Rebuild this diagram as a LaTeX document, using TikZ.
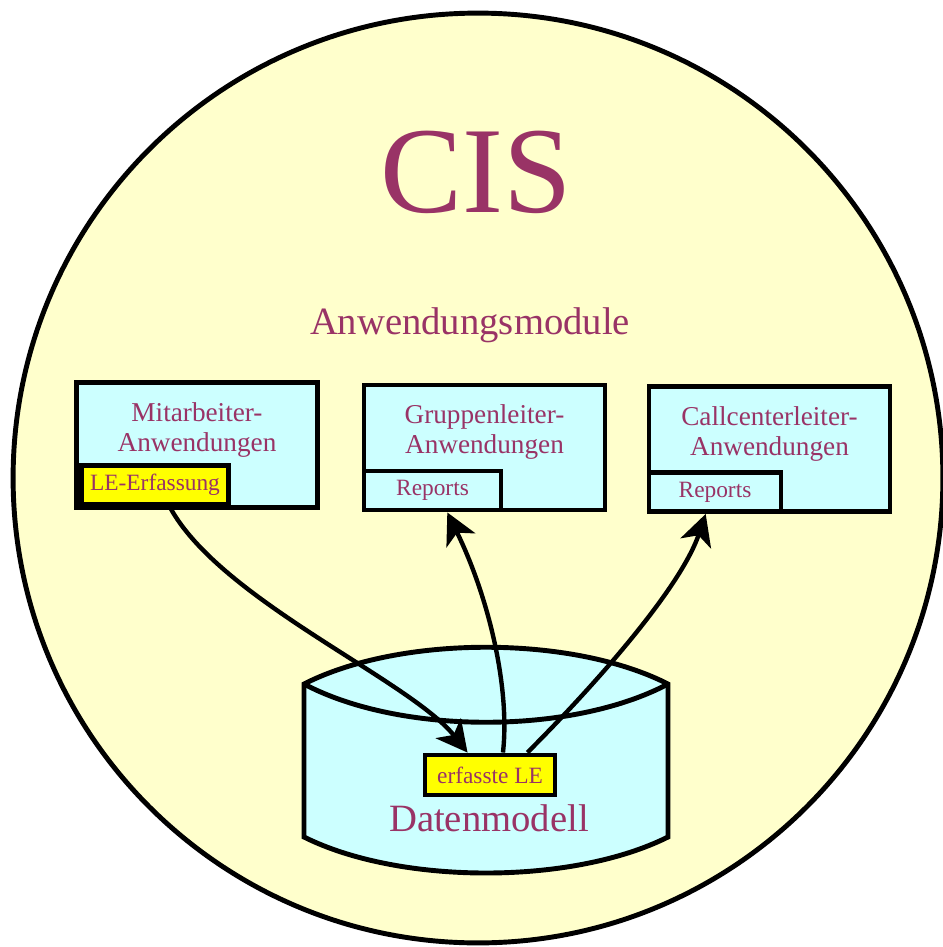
\documentclass[tikz,border=0pt]{standalone}
\usepackage{fontspec}
\setmainfont{Liberation Serif}
\usepackage{tikz}
\usetikzlibrary{arrows.meta,positioning}
\usepackage{xcolor}
\definecolor{cisyellow}{RGB}{255,255,204}
\definecolor{ciscyan}{RGB}{204,255,255}
\definecolor{cispurple}{RGB}{153,51,102}
\definecolor{lefill}{RGB}{255,255,0}
\tikzstyle{flow} = [line width=2.5pt, -{Stealth[length=0.62cm,width=0.64cm,inset=0.17cm]}]
\tikzstyle{modbox} = [rectangle, draw, fill=ciscyan, line width=2.8pt, minimum width=4.82cm, minimum height=2.5cm]
\tikzstyle{subbox} = [rectangle, draw, fill=ciscyan, line width=2.8pt, minimum height=0.78cm, inner sep=0pt, text=cispurple, font=\fontsize{13.3}{15}\selectfont]
\tikzstyle{modtitle} = [align=center, inner sep=0pt, text=cispurple, font=\fontsize{15.5}{17}\selectfont]

\begin{document}
\begin{tikzpicture}[x=0.02cm, y=-0.02cm]
\useasboundingbox (0,0) rectangle (943,947);
% CIS
\draw[line width=2.8pt, fill=cisyellow] (478,478) circle (9.3cm);
\node[text=cispurple, font=\fontsize{70}{70}\selectfont] (cis) at (476,172) {CIS};
\node[text=cispurple, font=\fontsize{22}{24}\selectfont, anchor=base] (modules) at (470,334) {Anwendungsmodule};

% Module
\node[modbox] (ma) at (197,445) {};
\node[modbox] (gl) at (484.5,447.5) {};
\node[modbox] (cl) at (769.5,449) {};
\node[modtitle, below=0.44cm of ma.north] (mat) {Mitarbeiter-\\Anwendungen};
\node[modtitle, below=0.44cm of gl.north] (glt) {Gruppenleiter-\\Anwendungen};
\node[modtitle, below=0.44cm of cl.north] (clt) {Callcenterleiter-\\Anwendungen};
\node[subbox, fill=lefill, minimum width=2.94cm, anchor=south west] (le) at ([xshift=0.1cm, yshift=0.06cm]ma.south west) {LE-Erfassung};
\node[subbox, minimum width=2.74cm, anchor=south west] (rg) at (gl.south west) {Reports};
\node[subbox, minimum width=2.64cm, anchor=south west] (rc) at (cl.south west) {Reports};

% Datenmodell
\draw[line width=2.8pt, fill=ciscyan] (304,684) .. controls (400,635) and (572,635) .. (668,684) -- (668,837) .. controls (572,885) and (400,885) .. (304,837) -- cycle;
\draw[line width=2.8pt] (304,684) .. controls (400,735) and (572,735) .. (668,684);
\node[subbox, fill=lefill, minimum width=2.6cm, minimum height=0.8cm] (ef) at (490,775) {erfasste LE};
\node[text=cispurple, font=\fontsize{22}{24}\selectfont, anchor=base] (dm) at (489,831) {Datenmodell};

\draw[flow] (le.-56) .. controls (220,600) and (410,680) .. (ef.135);
\draw[flow] (ef.60) .. controls (510,690) and (490,600) .. (rg.-56);
\draw[flow] (ef.31) .. controls (590,690) and (680,590) .. (rc.-113);
\end{tikzpicture}
\end{document}
